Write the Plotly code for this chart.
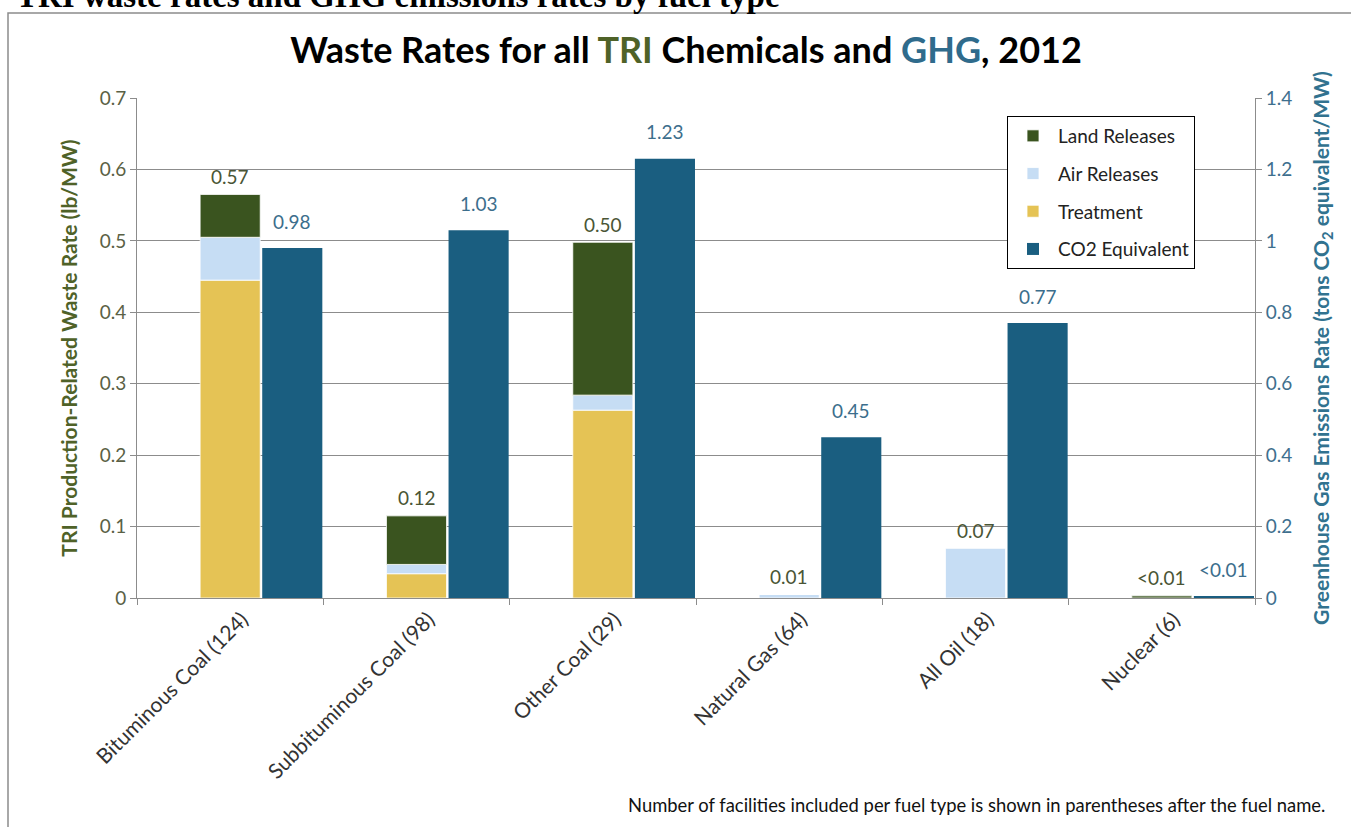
import plotly.graph_objects as go

# ---------------- data ----------------
fuels = ["Bituminous Coal (124)", "Subbituminous Coal (98)", "Other Coal (29)",
         "Natural Gas (64)", "All Oil (18)", "Nuclear (6)"]
treatment = [0.445, 0.034, 0.263, 0.0, 0.0, 0.0]
air_releases = [0.060, 0.013, 0.021, 0.005, 0.070, 0.0]
land_releases = [0.060, 0.068, 0.214, 0.0, 0.0, 0.003]
co2_equivalent = [0.98, 1.03, 1.23, 0.45, 0.77, 0.004]
tri_labels = ["0.57", "0.12", "0.50", "0.01", "0.07", "<0.01"]
co2_labels = ["0.98", "1.03", "1.23", "0.45", "0.77", "<0.01"]
left_ticks = [0, 0.1, 0.2, 0.3, 0.4, 0.5, 0.6, 0.7]
right_ticks = [0, 0.2, 0.4, 0.6, 0.8, 1.0, 1.2, 1.4]

# ---------------- style ----------------
FONT = "Lato"
C_LAND = "#3A541F"
C_AIR = "#C6DDF4"
C_TREAT = "#E5C355"
C_CO2 = "#1A5E80"
C_GREEN = "#4F6228"
C_BLUE = "#2F6B8C"
GRID = "#8C8C8C"

BAR_W = 0.3226
TRI_OFF = -0.1613
CO2_OFF = 0.172

fig = go.Figure()

for name, vals, col, rank in [("Treatment", treatment, C_TREAT, 3),
                              ("Air Releases", air_releases, C_AIR, 2),
                              ("Land Releases", land_releases, C_LAND, 1)]:
    fig.add_trace(go.Bar(
        x=fuels, y=vals, name=name, marker=dict(color=col, line=dict(color="white", width=0.8)),
        width=BAR_W, offset=TRI_OFF, legendrank=rank, legendgroup=name,
        yaxis="y", hoverinfo="x+y+name"))

fig.add_trace(go.Bar(
    x=fuels, y=co2_equivalent, name="CO2 Equivalent", marker=dict(color=C_CO2, line=dict(width=0)),
    width=BAR_W, offset=CO2_OFF, legendrank=4, legendgroup="co2", yaxis="y2"))

annotations = []
for i in range(len(fuels)):
    tot = treatment[i] + air_releases[i] + land_releases[i]
    annotations.append(dict(x=i + TRI_OFF + BAR_W / 2, y=tot, xref="x", yref="y",
                            text=tri_labels[i], showarrow=False, yanchor="middle", yshift=18,
                            font=dict(family=FONT, size=19, color="#4A5535")))
    annotations.append(dict(x=i + CO2_OFF + BAR_W / 2, y=co2_equivalent[i], xref="x", yref="y2",
                            text=co2_labels[i], showarrow=False, yanchor="middle", yshift=27,
                            font=dict(family=FONT, size=19, color="#3C6E8C")))

# footnote (paper coords: plot area spans x 137..1255 px, y 98..598 px)
annotations.append(dict(x=(1327 - 137) / 1118, y=(598 - 805) / 500, xref="paper", yref="paper",
                        text="Number of facilities included per fuel type is shown in parentheses after the fuel name.",
                        showarrow=False, xanchor="right", yanchor="middle",
                        font=dict(family=FONT, size=18.4, color="#111111")))
# cut-off heading above the chart frame
annotations.append(dict(x=(14 - 137) / 1118, y=(598 + 4) / 500, xref="paper", yref="paper",
                        text="<b>TRI waste rates and GHG emissions rates by fuel type</b>",
                        showarrow=False, xanchor="left", yanchor="middle",
                        font=dict(family="Liberation Serif", size=33, color="#000000")))

fig.update_layout(
    width=1351, height=827,
    margin=dict(l=137, r=96, t=98, b=229),
    paper_bgcolor="white", plot_bgcolor="white",
    barmode="relative",
    font=dict(family=FONT),
    title=dict(text="<b>Waste Rates for all <span style='color:%s'>TRI</span> Chemicals and "
                    "<span style='color:%s'>GHG</span>, 2012</b>" % (C_GREEN, C_BLUE),
               x=686 / 1351, xanchor="center", xref="container",
               y=1 - 50 / 827, yanchor="middle", yref="container",
               font=dict(family=FONT, size=36, color="#000000")),
    xaxis=dict(type="category", range=[-0.5, 5.5], showgrid=False,
               showline=True, linecolor=GRID, linewidth=1,
               ticks="outside", tickson="boundaries", ticklen=6, tickcolor=GRID,
               tickangle=-45, ticklabelshift=12,
               tickfont=dict(family=FONT, size=21, color="#333333")),
    yaxis=dict(range=[0, 0.7], tickvals=left_ticks, ticktext=[f"{v:g}" for v in left_ticks],
               showgrid=True, gridcolor=GRID, gridwidth=1,
               showline=True, linecolor=GRID, linewidth=1,
               ticks="outside", ticklen=6, tickcolor=GRID, zeroline=False,
               tickfont=dict(family=FONT, size=19, color="#5A6145"),
               title=dict(text="<b>TRI Production-Related Waste Rate (lb/MW)</b>",
                          font=dict(family=FONT, size=21, color=C_GREEN), standoff=16)),
    yaxis2=dict(range=[0, 1.4], tickvals=right_ticks, ticktext=[f"{v:g}" for v in right_ticks],
                overlaying="y", side="right", showgrid=False,
                showline=True, linecolor=GRID, linewidth=1, zeroline=False,
                ticks="outside", ticklen=6, tickcolor=GRID,
                tickfont=dict(family=FONT, size=19, color="#3E6F8E"),
                title=dict(text="<b>Greenhouse Gas Emissions Rate (tons CO<sub>2</sub> equivalent/MW)</b>",
                           font=dict(family=FONT, size=21, color="#31728F"), standoff=22)),
    legend=dict(x=(1007 - 137) / 1118, y=(598 - 116) / 500, xanchor="left", yanchor="top",
                bgcolor="white", bordercolor="#000000", borderwidth=1,
                font=dict(family=FONT, size=19, color="#222222"),
                traceorder="grouped", tracegroupgap=10, itemwidth=40),
    annotations=annotations,
    shapes=[dict(type="rect", xref="paper", yref="paper",
                 x0=(8 - 137) / 1118, x1=(1370 - 137) / 1118,
                 y0=(598 - 860) / 500, y1=(598 - 13) / 500,
                 line=dict(color="#8C8C8C", width=1.5), fillcolor="rgba(0,0,0,0)", layer="below")],
)

fig.write_html("out.html")
